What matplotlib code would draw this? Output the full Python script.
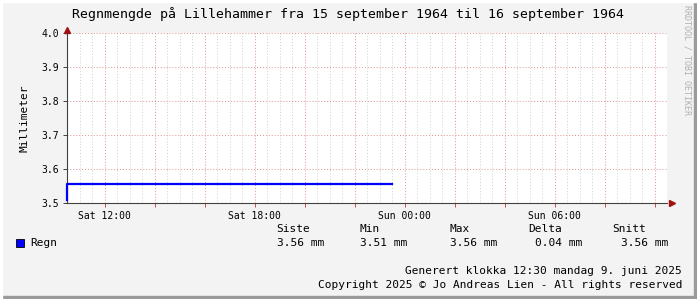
import matplotlib
matplotlib.use("Agg")
import matplotlib.pyplot as plt
from matplotlib.patches import Rectangle

# data: hours counted from Saturday 00:00
timer = [10.5, 23.5]
regn = [3.51, 3.556]

x_start, x_end = 10.5, 34.5
tick_pos = [12, 18, 24, 30]
tick_lbl = ["Sat 12:00", "Sat 18:00", "Sun 00:00", "Sun 06:00"]
y_ticks = [3.5, 3.6, 3.7, 3.8, 3.9, 4.0]

stat_names = ["Siste", "Min", "Max", "Delta", "Snitt"]
stat_vals = ["3.56 mm", "3.51 mm", "3.56 mm", "0.04 mm", "3.56 mm"]

mono = "DejaVu Sans Mono"
W, H = 697, 299
bg = "#f3f3f3"

fig = plt.figure(figsize=(W / 100, H / 100), dpi=100, facecolor=bg)

# 3d frame of canvas
fig.patches.append(Rectangle((0, 0), 1, 3 / H, transform=fig.transFigure, color="#9a9a9a", zorder=0))
fig.patches.append(Rectangle((1 - 3 / W, 0), 3 / W, 1, transform=fig.transFigure, color="#9a9a9a", zorder=0))
fig.patches.append(Rectangle((0, 1 - 2 / H), 1, 2 / H, transform=fig.transFigure, color="#ffffff", zorder=0))
fig.patches.append(Rectangle((0, 0), 2 / W, 1, transform=fig.transFigure, color="#ffffff", zorder=0))

ax = fig.add_axes([67 / W, (H - 203) / H, 600 / W, 170 / H])
ax.set_facecolor("#ffffff")

# grid
for h in [x_start + 0.5 * i for i in range(49)]:
    if h % 2 == 0:
        continue
    ax.axvline(h, color="#cfcfcf", lw=0.7, ls=(0, (1, 2)), zorder=1)
for h in range(12, 35, 2):
    ax.axvline(h, color="#e09090", lw=0.7, ls=(0, (1, 2)), zorder=1)
for v in y_ticks[1:]:
    ax.axhline(v, color="#e09090", lw=0.7, ls=(0, (1, 2)), zorder=1)

ax.plot(timer, regn, color="#0000ff", lw=1.6, drawstyle="steps-pre", zorder=3, clip_on=False)

ax.set_xlim(x_start, x_end)
ax.set_ylim(3.5, 4.0)
major = list(range(12, 35, 2))
ax.set_xticks(major)
ax.set_xticklabels([tick_lbl[tick_pos.index(h)] if h in tick_pos else "" for h in major],
                   family=mono, fontsize=7)
ax.tick_params(axis="x", length=3, width=0.7, color="#c05050", pad=3)
ax.set_yticks(y_ticks)
ax.set_yticklabels(["%.1f" % v for v in y_ticks], family=mono, fontsize=7)
ax.tick_params(axis="y", length=3, width=0.7, color="#404040", pad=3)

for s in ["top", "right"]:
    ax.spines[s].set_visible(False)
for s in ["left", "bottom"]:
    ax.spines[s].set_color("#404040")
    ax.spines[s].set_linewidth(0.8)

# arrows on axes
ax.plot([1.008], [0], marker=">", color="#a01010", ms=4, transform=ax.transAxes, clip_on=False)
ax.plot([0], [1.02], marker="^", color="#a01010", ms=4, transform=ax.transAxes, clip_on=False)

ax.set_ylabel("Millimeter", family=mono, fontsize=8, labelpad=8)

fig.text(348 / W, 1 - 14 / H, "Regnmengde på Lillehammer fra 15 september 1964 til 16 september 1964",
         family=mono, fontsize=9.5, ha="center", va="center")
fig.text(687 / W, 1 - 5 / H, "RRDTOOL / TOBI OETIKER", family=mono, fontsize=6,
         color="#b0b0b0", rotation=270, ha="center", va="top")

# legend
fig.patches.append(Rectangle((16 / W, 1 - 247 / H), 8 / W, 8 / H, transform=fig.transFigure,
                             facecolor="#0000ff", edgecolor="#000000", lw=0.6))
fig.text(30 / W, 1 - 243 / H, "Regn", family=mono, fontsize=8, va="center")
name_x = [276, 360, 450, 528, 612]
val_x = [277, 360, 450, 535, 621]
for nx, vx, n, v in zip(name_x, val_x, stat_names, stat_vals):
    fig.text(nx / W, 1 - 229 / H, n, family=mono, fontsize=8, va="center")
    fig.text(vx / W, 1 - 243 / H, v, family=mono, fontsize=8, va="center")

fig.text(682 / W, 1 - 271 / H, "Generert klokka 12:30 mandag 9. juni 2025",
         family=mono, fontsize=8, ha="right", va="center")
fig.text(682 / W, 1 - 285 / H, "Copyright 2025 © Jo Andreas Lien - All rights reserved",
         family=mono, fontsize=8, ha="right", va="center")

fig.savefig("out.png", dpi=100, facecolor=bg)
